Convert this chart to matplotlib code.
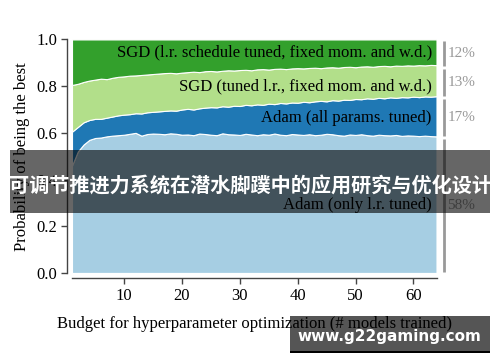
import numpy as np
import matplotlib
matplotlib.use("Agg")
import matplotlib.pyplot as plt

budget = list(range(1, 65))

# cumulative upper boundaries of the stacked layers
top_adam_lr = [0.46, 0.52, 0.55, 0.57, 0.578, 0.58, 0.585, 0.588, 0.59, 0.592,
               0.596, 0.60, 0.588, 0.595, 0.597, 0.596, 0.594, 0.598, 0.596, 0.592,
               0.593, 0.59, 0.597, 0.595, 0.592, 0.59, 0.598, 0.594, 0.593, 0.591,
               0.596, 0.593, 0.59, 0.594, 0.592, 0.597, 0.592, 0.59, 0.595, 0.593,
               0.591, 0.594, 0.59, 0.592, 0.596, 0.594, 0.59, 0.588, 0.593, 0.591,
               0.594, 0.59, 0.588, 0.592, 0.59, 0.589, 0.591, 0.587, 0.589, 0.588,
               0.586, 0.588, 0.586, 0.585]
top_adam_all = [0.605, 0.625, 0.645, 0.655, 0.66, 0.66, 0.665, 0.67, 0.675, 0.678,
                0.68, 0.684, 0.683, 0.688, 0.69, 0.692, 0.694, 0.696, 0.695, 0.70,
                0.703, 0.70, 0.705, 0.708, 0.71, 0.709, 0.714, 0.712, 0.716, 0.715,
                0.72, 0.718, 0.722, 0.72, 0.725, 0.723, 0.728, 0.726, 0.73, 0.729,
                0.733, 0.731, 0.735, 0.737, 0.735, 0.74, 0.738, 0.742, 0.741, 0.745,
                0.744, 0.748, 0.746, 0.75, 0.748, 0.752, 0.75, 0.753, 0.752, 0.755,
                0.753, 0.756, 0.755, 0.757]
top_sgd_lr = [0.805, 0.81, 0.818, 0.824, 0.828, 0.832, 0.83, 0.836, 0.84, 0.842,
              0.845, 0.846, 0.848, 0.85, 0.852, 0.854, 0.856, 0.857, 0.855, 0.858,
              0.86, 0.862, 0.86, 0.864, 0.865, 0.863, 0.866, 0.868, 0.867, 0.869,
              0.87, 0.868, 0.872, 0.873, 0.871, 0.874, 0.875, 0.873, 0.876, 0.877,
              0.876, 0.878, 0.879, 0.877, 0.88, 0.881, 0.879, 0.882, 0.883, 0.881,
              0.884, 0.885, 0.883, 0.886, 0.887, 0.885, 0.888, 0.887, 0.889, 0.888,
              0.89, 0.889, 0.891, 0.89]
top_total = [1.0] * 64

layer_names = ["Adam (only l.r. tuned)", "Adam (all params. tuned)",
               "SGD (tuned l.r., fixed mom. and w.d.)",
               "SGD (l.r. schedule tuned, fixed mom. and w.d.)"]
layer_share_pct = ["58%", "17%", "13%", "12%"]
layer_avg = [0.58, 0.17, 0.13, 0.12]
colors = ["#a6cee3", "#1f78b4", "#b2df8a", "#33a02c"]

tops = np.array([top_adam_lr, top_adam_all, top_sgd_lr, top_total])
layers = np.diff(np.vstack([np.zeros(64), tops]), axis=0)

plt.rcParams["font.family"] = ["Liberation Serif", "DejaVu Serif"]
fig = plt.figure(figsize=(5.0, 3.62), dpi=100)
ax = fig.add_axes([0.144, 0.246, 0.729, 0.645])

ax.stackplot(budget, layers, colors=colors, edgecolor="white", linewidth=0.8)
ax.set_xlim(1, 64)
ax.set_ylim(0, 1)
ax.set_xticks([10, 20, 30, 40, 50, 60])
ax.set_yticks([0.0, 0.2, 0.4, 0.6, 0.8, 1.0])
ax.set_yticklabels(["0.0", "0.2", "0.4", "0.6", "0.8", "1.0"])
for s in ["top", "right"]:
    ax.spines[s].set_visible(False)
for s in ["left", "bottom"]:
    ax.spines[s].set_position(("outward", 3.5))
    ax.spines[s].set_color("#444444")
    ax.spines[s].set_linewidth(1.0)
ax.tick_params(axis="both", labelsize=12, length=4, color="#444444", width=1.0, pad=3)
ax.set_xlabel("Budget for hyperparameter optimization (# models trained)", fontsize=12, labelpad=9)
ax.set_ylabel("Probability of being the best", fontsize=12, labelpad=5)

# labels inside the areas
label_y = [0.29, 0.665, 0.80, 0.945]
for name, y in zip(layer_names, label_y):
    ax.text(63.2, y, name, ha="right", va="center", fontsize=12, color="black")

# share bars on the right
cum = np.concatenate([[0], np.cumsum(layer_avg)])
for i, pct in enumerate(layer_share_pct):
    lo, hi = cum[i] + 0.006, min(cum[i + 1], 1.0) - 0.006
    ax.plot([65.3, 65.3], [lo, hi], color="#999999", lw=2, clip_on=False,
            solid_capstyle="butt")
    ax.text(65.9, (lo + hi) / 2, pct, ha="left", va="center", fontsize=11,
            color="#999999", clip_on=False)

# overlay banner
fig.patches.append(plt.Rectangle((10 / 500, 1 - 213 / 362), 480 / 500, 63 / 362,
                                 transform=fig.transFigure, facecolor="black",
                                 alpha=0.6, zorder=5))
fig.text(0.5, 1 - 186 / 362, "可调节推进力系统在潜水脚蹼中的应用研究与优化设计",
         ha="center", va="center", fontsize=14.5, color="white", fontweight="bold",
         family=["Noto Sans CJK SC", "DejaVu Sans"], zorder=6)

# watermark (behind the axis label)
fig.patches.append(plt.Rectangle((290 / 500, 1 - 351 / 362), 200 / 500, 35 / 362,
                                 transform=fig.transFigure, facecolor="#555555",
                                 zorder=-1))
fig.patches.append(plt.Rectangle((290 / 500, 1 - 353 / 362), 200 / 500, 2 / 362,
                                 transform=fig.transFigure, facecolor="black",
                                 zorder=-1))
fig.text(389 / 500, 1 - 336 / 362, "www.g22gaming.com", ha="center", va="center",
         fontsize=11, color="white", fontweight="bold",
         family=["DejaVu Sans"], zorder=6)

fig.savefig("out.png", dpi=100)
